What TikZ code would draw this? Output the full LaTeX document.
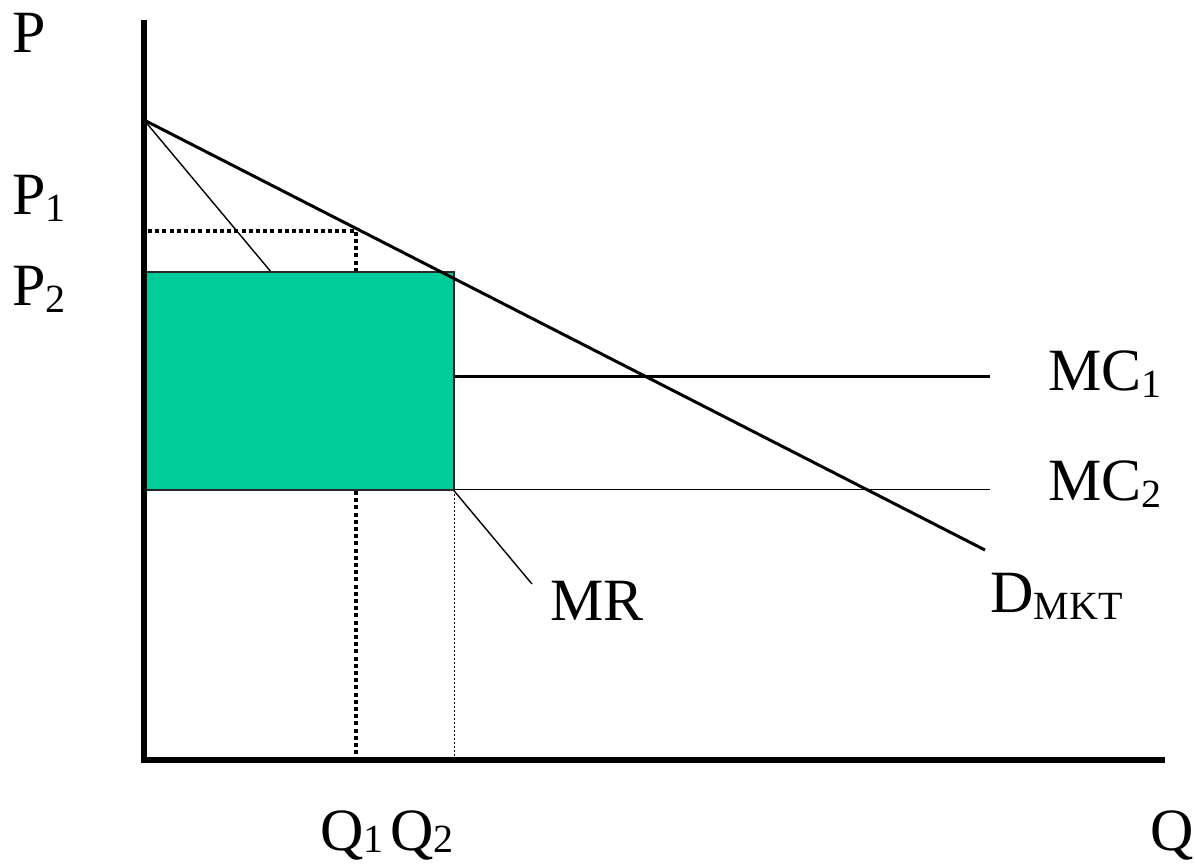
\documentclass[tikz,border=0pt]{standalone}
\usepackage{fontspec}
\setmainfont{Liberation Serif}
\newcommand{\sbs}[1]{\raisebox{-0.28ex}{\fontsize{20}{20}\selectfont #1}}
\newcommand{\sbq}[1]{\raisebox{-0.1ex}{\fontsize{20}{20}\selectfont #1}}
\begin{document}
\begin{tikzpicture}[x=0.5pt,y=-0.5pt,
  lbl/.style={inner sep=0pt,anchor=base west,font=\fontsize{30}{30}\selectfont},
  axis/.style={line width=2.6pt},
  thick line/.style={line width=1.5pt},
  thin line/.style={line width=0.7pt},
  bigdot/.style={line width=2pt,dash pattern=on 2pt off 1.6pt},
  smalldot/.style={line width=0.5pt,dash pattern=on 1pt off 1pt}]
\useasboundingbox (0,0) rectangle (1195,867);
% coordinates
\coordinate (ytop) at (144,20);
\coordinate (orig) at (144,760);
\coordinate (xend) at (1165,760);
\coordinate (dA) at (144,120);
\coordinate (dB) at (985,550);
\coordinate (mrEnd) at (532,584);
\coordinate (p1L) at (148,231);
\coordinate (p1R) at (356,231);
\coordinate (q1) at (356,760);
\coordinate (q2) at (454,760);
\coordinate (boxTL) at (142,272);
\coordinate (boxBR) at (454,490);
\coordinate (mc1L) at (455,376);
\coordinate (mc1R) at (990,376);
\coordinate (mc2L) at (454,489);
\coordinate (mc2R) at (990,489);
% MR line (partly hidden by box)
\draw[thin line] (dA) -- (mrEnd);
% dotted P1/Q1
\draw[bigdot] (p1L) -- (p1R) -- (q1);
% green box
\draw[fill={rgb,255:red,0;green,204;blue,153},draw={rgb,255:red,40;green,40;blue,40},line width=0.8pt] (boxTL) rectangle (boxBR);
% thin dotted at Q2
\draw[smalldot] (boxBR) -- (q2);
% MC lines
\draw[thick line] (mc1L) -- (mc1R);
\draw[line width=0.5pt] (mc2L) -- (mc2R);
% demand
\draw[thick line] (dA) -- (dB);
% axes
\draw[axis] (ytop) -- (orig) -- (xend);
% labels
\node[lbl] (lP) at (12,52) {P};
\node[lbl] (lP1) at (12,214) {P\sbs{1}};
\node[lbl] (lP2) at (12,305) {P\sbs{2}};
\node[lbl] (lMC1) at (1048,390) {MC\sbs{1}};
\node[lbl] (lMC2) at (1048,500) {MC\sbs{2}};
\node[lbl] (lD) at (990,612) {D\sbs{MKT}};
\node[lbl] (lMR) at (550,620) {MR};
\node[lbl] (lQ1) at (320,850) {Q\sbq{1}};
\node[lbl] (lQ2) at (390,850) {Q\sbq{2}};
\node[lbl] (lQ) at (1150,850) {Q};
\end{tikzpicture}
\end{document}
